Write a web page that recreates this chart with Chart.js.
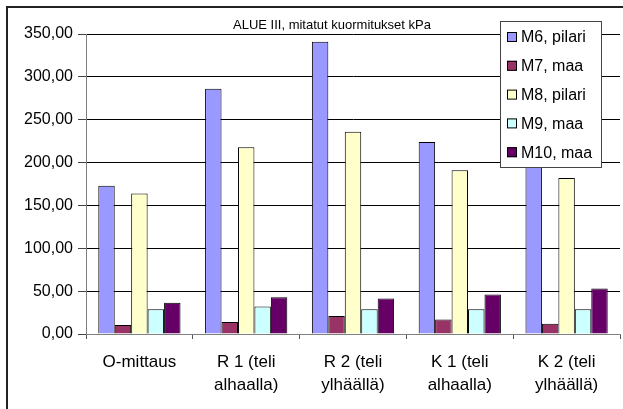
<!DOCTYPE html>
<html>
<head>
<meta charset="utf-8">
<script src="https://cdn.jsdelivr.net/npm/chart.js@4/dist/chart.umd.min.js"></script>
<style>
  html, body { margin: 0; padding: 0; background: #fff; }
  canvas { display: block; }
</style>
</head>
<body>
<canvas id="c" width="623" height="409"></canvas>
<script>
// Measuring points and load cases (kPa)
const categories = [
  ['O-mittaus'],
  ['R 1 (teli', 'alhaalla)'],
  ['R 2 (teli', 'ylhäällä)'],
  ['K 1 (teli', 'alhaalla)'],
  ['K 2 (teli', 'ylhäällä)']
];
const seriesNames = ['M6, pilari', 'M7, maa', 'M8, pilari', 'M9, maa', 'M10, maa'];
const m6  = [173, 286, 341, 224, 212];
const m7  = [10.5, 14, 21, 17, 12];
const m8  = [164, 218, 236, 191, 182];
const m9  = [29, 32, 29, 29, 29];
const m10 = [36.5, 43, 41.5, 46, 53];
const yTicks = { min: 0, max: 350, step: 50 };
const chartTitle = 'ALUE III, mitatut kuormitukset kPa';

const seriesValues = [m6, m7, m8, m9, m10];
const seriesColors = ['#9999FF', '#993366', '#FFFFCC', '#CCFFFF', '#660066'];
const FONT = '"Liberation Sans", Arial, sans-serif';

// Frame, title and the boxed legend drawn over the plot
const decorations = {
  id: 'decorations',
  beforeDraw(chart) {
    const ctx = chart.ctx;
    ctx.save();
    ctx.fillStyle = '#fff';
    ctx.fillRect(0, 0, chart.width, chart.height);
    ctx.restore();
  },
  afterDraw(chart) {
    const ctx = chart.ctx;
    ctx.save();
    // outer frame
    ctx.strokeStyle = '#222';
    ctx.lineWidth = 2;
    ctx.strokeRect(7, 7, 700, 700);
    // title
    ctx.fillStyle = '#000';
    ctx.font = '13px ' + FONT;
    ctx.textAlign = 'center';
    ctx.textBaseline = 'middle';
    ctx.fillText(chartTitle, 332, 25);
    // legend
    const lx = 500, ly = 21, lw = 101, lh = 146;
    ctx.fillStyle = '#fff';
    ctx.fillRect(lx, ly, lw, lh);
    ctx.strokeStyle = '#444';
    ctx.lineWidth = 1;
    ctx.strokeRect(lx + 0.5, ly + 0.5, lw, lh);
    ctx.font = '16px ' + FONT;
    ctx.textAlign = 'left';
    chart.data.datasets.forEach((ds, i) => {
      const cy = 37 + i * 28.8;
      ctx.fillStyle = ds.backgroundColor;
      ctx.fillRect(507, cy - 5, 10, 10);
      ctx.strokeStyle = '#000';
      ctx.strokeRect(507.5, cy - 4.5, 9, 9);
      ctx.fillStyle = '#000';
      ctx.fillText(ds.label, 521, cy + 1);
    });
    ctx.restore();
  }
};

new Chart(document.getElementById('c'), {
  type: 'bar',
  data: {
    labels: categories,
    datasets: seriesNames.map((name, i) => ({
      label: name,
      data: seriesValues[i],
      backgroundColor: seriesColors[i],
      borderColor: '#000',
      borderWidth: 1,
      categoryPercentage: 0.77,
      barPercentage: 1.0
    }))
  },
  options: {
    responsive: false,
    animation: false,
    layout: { padding: { left: 0, top: 34, right: 3, bottom: 0 } },
    plugins: {
      legend: { display: false },
      title: { display: false },
      tooltip: { enabled: false }
    },
    scales: {
      x: {
        afterFit(scale) { scale.height = 75; },
        grid: {
          display: true,
          drawOnChartArea: false,
          drawTicks: true,
          tickLength: 5,
          tickColor: '#555'
        },
        border: { display: true, color: '#808080', width: 1 },
        ticks: {
          color: '#000',
          font: { family: FONT, size: 17, lineHeight: 1.4 },
          padding: 11,
          maxRotation: 0,
          autoSkip: false
        }
      },
      y: {
        min: yTicks.min,
        max: yTicks.max,
        afterFit(scale) { scale.width = 86; },
        grid: {
          color: '#000',
          lineWidth: 1,
          drawTicks: true,
          tickLength: 8,
          tickColor: '#444'
        },
        border: { display: true, color: '#808080', width: 1 },
        ticks: {
          stepSize: yTicks.step,
          color: '#000',
          padding: 5,
          font: { family: FONT, size: 16 },
          callback: v => v.toFixed(2).replace('.', ',')
        }
      }
    }
  },
  plugins: [decorations]
});
</script>
</body>
</html>
